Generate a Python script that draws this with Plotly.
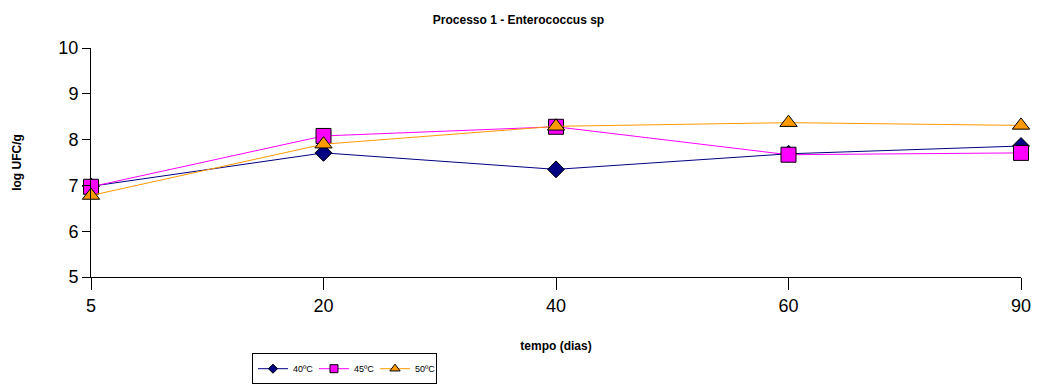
import plotly.graph_objects as go

categorias = ["5", "20", "40", "60", "90"]
t40 = [6.98, 7.71, 7.35, 7.69, 7.86]
t45 = [6.97, 8.08, 8.28, 7.67, 7.71]
t50 = [6.78, 7.90, 8.29, 8.37, 8.31]

xi = list(range(len(categorias)))

series = [
    ("40ºC", t40, "#000080", "diamond", 13, 7),
    ("45ºC", t45, "#FF00FF", "square", 15, 8),
    ("50ºC", t50, "#FF9900", "triangle-up", 15, 9),
]

fig = go.Figure()
for name, vals, col, sym, sz, lsz in series:
    fig.add_trace(go.Scatter(x=xi, y=vals, name=name, mode="lines+markers",
        line=dict(color=col, width=1), showlegend=False,
        marker=dict(symbol=sym, size=sz, color=col, line=dict(color="#000000", width=1)),
        cliponaxis=False))
for name, vals, col, sym, sz, lsz in series:
    fig.add_trace(go.Scatter(x=[None], y=[None], name=name, mode="lines+markers",
        line=dict(color=col, width=1),
        marker=dict(symbol=sym, size=lsz, color=col, line=dict(color="#000000", width=1))))

fig.update_layout(
    width=1037, height=386,
    margin=dict(l=91, r=16, t=48, b=109),
    paper_bgcolor="white", plot_bgcolor="white",
    font=dict(family="Liberation Sans, Arial, sans-serif", color="black"),
    title=dict(text="<b>Processo 1 - Enterococcus sp</b>", x=0.5, xanchor="center",
               y=0.95, yanchor="middle", font=dict(size=12)),
    showlegend=True,
    legend=dict(orientation="h", xref="container", yref="container",
                x=0.243, xanchor="left", y=0.085, yanchor="top",
                bordercolor="#000000", borderwidth=1, font=dict(size=9),
                itemwidth=30, tracegroupgap=0, entrywidth=16),
    xaxis=dict(tickmode="array", tickvals=xi, ticktext=categorias, range=[0, 4],
               automargin=False, ticklabeloverflow="allow",
               showgrid=False, zeroline=False, showline=True, linecolor="#000000", linewidth=1,
               ticks="outside", ticklen=12, tickcolor="#000000", tickfont=dict(size=18),
               title=dict(text="<b>tempo (dias)</b>", font=dict(size=12), standoff=35)),
    yaxis=dict(range=[5, 10], dtick=1, showgrid=False, zeroline=False, showline=True,
               linecolor="#000000", linewidth=1, ticks="outside", ticklen=8,
               tickcolor="#000000", tickfont=dict(size=18),
               title=dict(text="<b>log UFC/g</b>", font=dict(size=12), standoff=34)),
)

fig.write_html("out.html")
